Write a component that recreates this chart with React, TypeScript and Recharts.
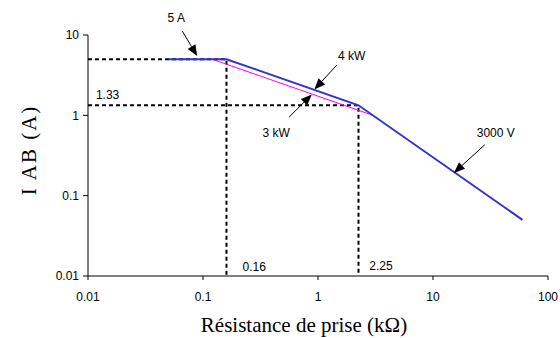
import React from "react";
import { LineChart, Line, XAxis, YAxis, ReferenceLine, ReferenceDot } from "recharts";

// resistance in kΩ, current in A
const limit4kW = [
  { x: 0.05, y: 5 },
  { x: 0.16, y: 5 },
  { x: 2.25, y: 1.333 },
  { x: 60, y: 0.05 },
];
const limit3kW = [
  { x: 0.12, y: 5 },
  { x: 3, y: 1 },
];
const guide5A = [
  { x: 0.01, y: 5 },
  { x: 0.16, y: 5 },
  { x: 0.16, y: 0.01 },
];
const guide133 = [
  { x: 0.01, y: 1.333 },
  { x: 2.25, y: 1.333 },
  { x: 2.25, y: 0.01 },
];
const xTicks = [0.01, 0.1, 1, 10, 100];
const yTicks = [0.01, 0.1, 1, 10];

const arrows = [
  { text: "5 A", from: [0.066, 11.2], to: [0.089, 5.46], dx: -6, dy: -13 },
  { text: "4 kW", from: [1.456, 4.22], to: [0.931, 2.1], dx: 15, dy: -9 },
  { text: "3 kW", from: [0.561, 0.952], to: [0.883, 1.815], dx: -13, dy: 16 },
  { text: "3000 V", from: [28.2, 0.43], to: [15.2, 0.192], dx: 11, dy: -12 },
];
const notes = [
  { text: "1.33", x: 0.0148, y: 1.815 },
  { text: "0.16", x: 0.279, y: 0.0131 },
  { text: "2.25", x: 3.53, y: 0.0133 },
];

const sans = "'Liberation Sans', Arial, sans-serif";
const serif = "'Liberation Serif', 'Times New Roman', serif";

const arrowShape = (text: string, dx: number, dy: number) => (p: any) => {
  const { x1, y1, x2, y2 } = p;
  const ang = Math.atan2(y2 - y1, x2 - x1);
  const len = 11;
  const hw = 4.5;
  const bx = x2 - len * Math.cos(ang);
  const by = y2 - len * Math.sin(ang);
  const nx = -Math.sin(ang) * hw;
  const ny = Math.cos(ang) * hw;
  return (
    <g>
      <line x1={x1} y1={y1} x2={bx} y2={by} stroke="#000" strokeWidth={1} />
      <polygon points={`${x2},${y2} ${bx + nx},${by + ny} ${bx - nx},${by - ny}`} fill="#000" />
      <text x={x1 + dx} y={y1 + dy} textAnchor="middle" dominantBaseline="central" fontSize={12} fontFamily={sans} fill="#000">
        {text}
      </text>
    </g>
  );
};

export default function App() {
  return (
    <div style={{ position: "absolute", left: 0, top: 0, background: "#fff" }}>
      <LineChart width={560} height={338} margin={{ top: 35, right: 12, left: 0, bottom: 0 }}>
        <XAxis
          dataKey="x"
          type="number"
          scale="log"
          domain={[0.01, 100]}
          ticks={xTicks}
          allowDataOverflow
          height={62}
          stroke="#808080"
          strokeWidth={2}
          tickSize={4}
          tickMargin={12}
          tickLine={{ stroke: "#000", strokeWidth: 1 }}
          tick={{ fill: "#000", fontSize: 12, fontFamily: sans }}
          tickFormatter={(v: number) => String(v)}
          label={({ viewBox }: any) => (
            <text x={viewBox.x + viewBox.width / 2 - 14} y={332} textAnchor="middle" fontSize={21} fontFamily={serif} fill="#000">
              Résistance de prise (kΩ)
            </text>
          )}
        />
        <YAxis
          type="number"
          scale="log"
          domain={[0.01, 10]}
          ticks={yTicks}
          allowDataOverflow
          width={88}
          stroke="#000"
          tickSize={5}
          tickMargin={4}
          tick={{ fill: "#000", fontSize: 12, fontFamily: sans }}
          tickFormatter={(v: number) => String(v)}
          label={() => (
            <text x={0} y={0} transform="translate(29,150) rotate(-90)" textAnchor="middle" dominantBaseline="central" fontSize={21} letterSpacing={2} fontFamily={serif} fill="#000">
              I AB (A)
            </text>
          )}
        />
        <Line data={guide5A} dataKey="y" stroke="#000" strokeWidth={2} strokeDasharray="4 3" dot={false} isAnimationActive={false} />
        <Line data={guide133} dataKey="y" stroke="#000" strokeWidth={2} strokeDasharray="4 3" dot={false} isAnimationActive={false} />
        <Line data={limit3kW} dataKey="y" stroke="#ff00ff" strokeWidth={1} dot={false} isAnimationActive={false} />
        <Line data={limit4kW} dataKey="y" stroke="#3333cc" strokeWidth={2} dot={false} isAnimationActive={false} />
        {arrows.map((a) => (
          <ReferenceLine
            key={a.text}
            segment={[
              { x: a.from[0], y: a.from[1] },
              { x: a.to[0], y: a.to[1] },
            ]}
            ifOverflow="visible"
            shape={arrowShape(a.text, a.dx, a.dy)}
          />
        ))}
        {notes.map((n) => (
          <ReferenceDot
            key={n.text}
            x={n.x}
            y={n.y}
            ifOverflow="visible"
            shape={(p: any) => (
              <text x={p.cx} y={p.cy} textAnchor="middle" dominantBaseline="central" fontSize={12} fontFamily={sans} fill="#000">
                {n.text}
              </text>
            )}
          />
        ))}
      </LineChart>
    </div>
  );
}
